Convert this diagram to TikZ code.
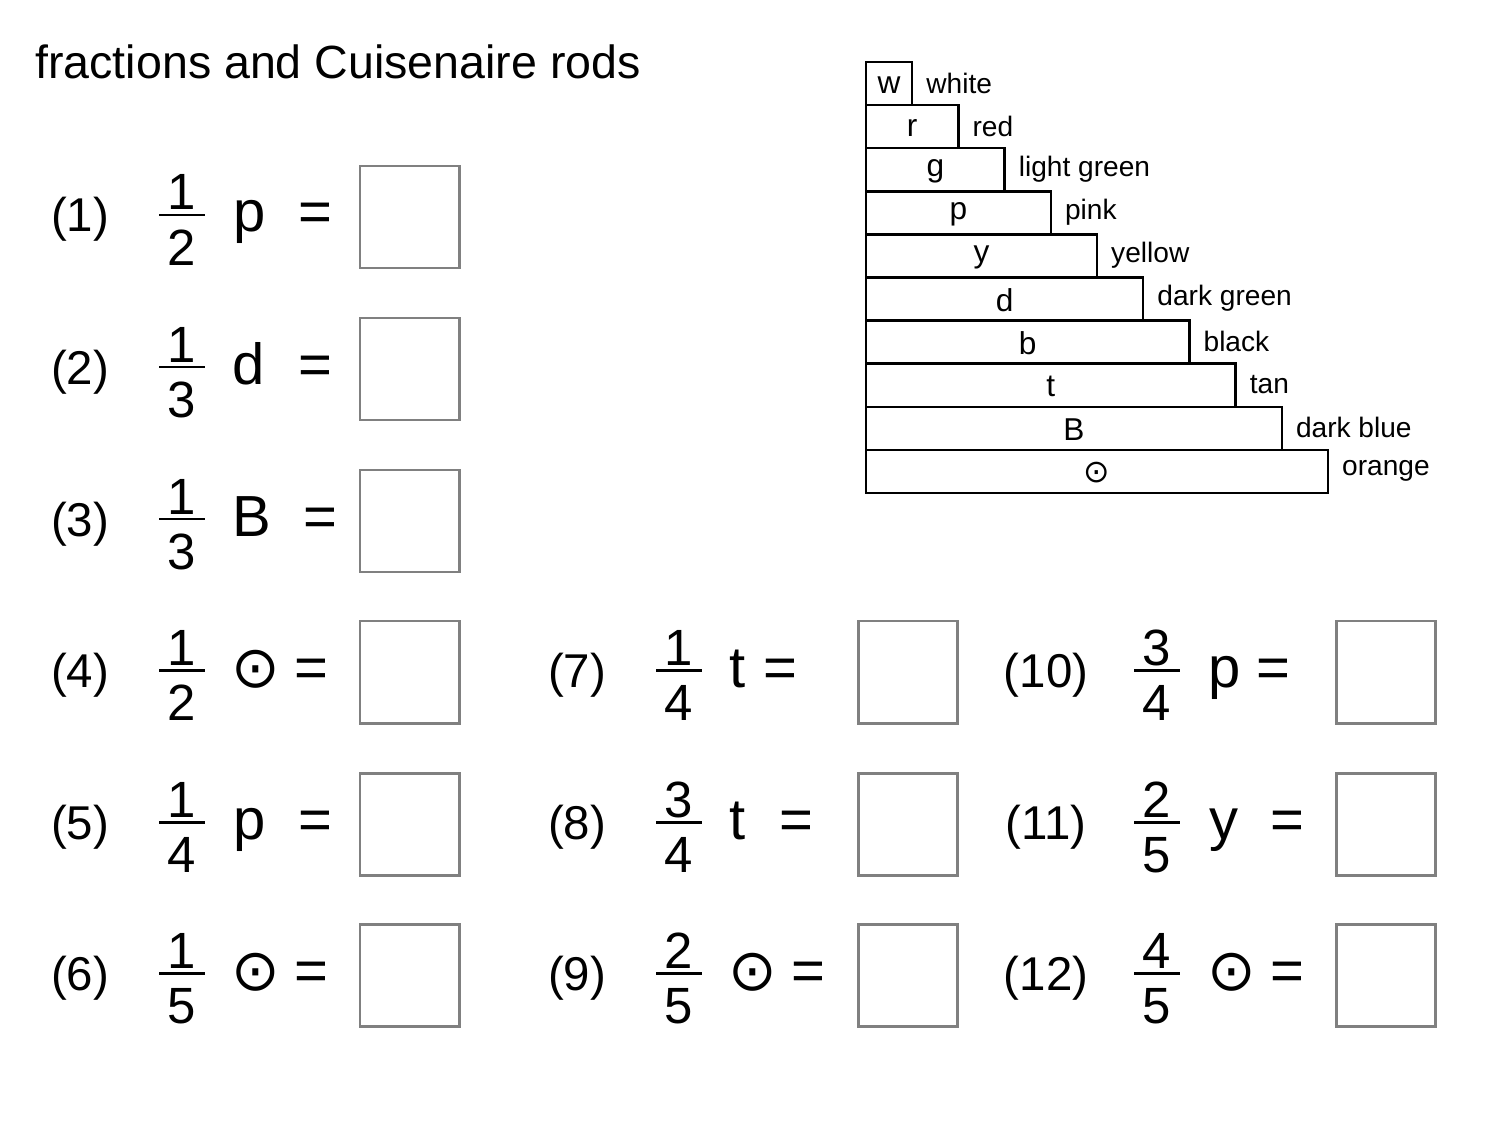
\documentclass[tikz,border=0pt]{standalone}
\usepackage{fontspec}
\setmainfont{Liberation Sans}
\newfontfamily\symf{DejaVu Sans}
\newcommand{\odo}{{\symf ⊙}}
\begin{document}
\begin{tikzpicture}[x=0.02cm,y=-0.02cm,
  rod/.style={draw=black,line width=1.4pt},
  ansbox/.style={draw=gray,line width=1.7pt},
  rodlab/.style={font=\fontsize{16}{16}\selectfont,anchor=west},
  rodlet/.style={font=\fontsize{18}{18}\selectfont},
  num/.style={font=\fontsize{27}{27}\selectfont,anchor=base},
  dig/.style={font=\fontsize{29}{29}\selectfont,anchor=base,inner sep=0pt},
  var/.style={font=\fontsize{33}{33}\selectfont,anchor=base}]
\useasboundingbox (0,0) rectangle (1500,1125);
\node[font=\fontsize{26.5}{26.5}\selectfont,anchor=base west,inner sep=0pt] (title) at (35,79) {fractions and Cuisenaire rods};
% rods
\foreach \i/\l/\n in {1/w/white,2/r/red,3/g/light green,4/p/pink,5/y/yellow,6/d/dark green,7/b/black,8/t/tan,9/B/dark blue,10/\odo/orange}{
  \pgfmathsetmacro{\xr}{866+46.2*\i}
  \pgfmathsetmacro{\yt}{62+43.1*(\i-1)}
  \pgfmathsetmacro{\yb}{\yt+43.1}
  \draw[rod] (866,\yt) rectangle (\xr,\yb);
  \node[rodlet] (rl\i) at ({(866+\xr)/2},{\yt+23}) {\l};
  \node[rodlab] (rn\i) at ({\xr+8},{\yt+21}) {\n};
}
% exercises
\foreach \k/\cx/\nx/\fx/\bx/\lab/\nu/\de/\v/\vx/\ex in {
 1/217/80/182/360/(1)/1/2/p/250/315,
 2/369/80/182/360/(2)/1/3/d/249/315,
 3/521/80/182/360/(3)/1/3/B/252/320,
 4/672/80/182/360/(4)/1/2/\odo/256/311,
 5/824/80/182/360/(5)/1/4/p/250/315,
 6/975/80/182/360/(6)/1/5/\odo/256/311,
 7/672/577/679/858/(7)/1/4/t/738/780,
 8/824/577/679/858/(8)/3/4/t/738/796,
 9/975/577/679/858/(9)/2/5/\odo/753/808,
 10/672/1046/1157/1336/(10)/3/4/p/1225/1273,
 11/824/1046/1157/1336/(11)/2/5/y/1224/1287,
 12/975/1046/1157/1336/(12)/4/5/\odo/1232/1287}{
  \node[num] (n\k) at (\nx,\cx+15) {\lab};
  \node[dig] (fn\k) at (\fx,\cx-7) {\nu};
  \node[dig] (fd\k) at (\fx,\cx+48) {\de};
  \draw[line width=1.7pt] (\fx-23,\cx-2) -- (\fx+23,\cx-2);
  \node[var] (v\k) at (\vx,\cx+15) {\v};
  \node[var] (e\k) at (\ex,\cx+15) {=};
  \draw[ansbox] (\bx,\cx-51) rectangle (\bx+99,\cx+51);
}
\end{tikzpicture}
\end{document}
